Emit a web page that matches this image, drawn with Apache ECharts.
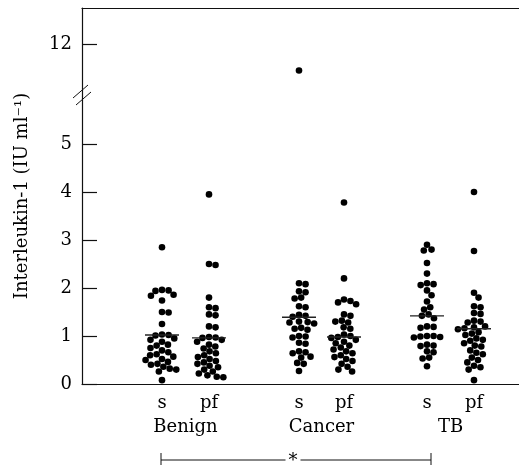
<!DOCTYPE html>
<html>
<head>
<meta charset="utf-8">
<script src="https://cdn.jsdelivr.net/npm/echarts@6/dist/echarts.min.js"></script>
<style>
  html, body { margin: 0; padding: 0; background: #fff; }
  #chart { width: 519px; height: 465px; }
</style>
</head>
<body>
<div id="chart"></div>
<script>
// groups and sample types
const groups = ['Benign', 'Cancer', 'TB'];
const samples = ['s', 'pf'];

// IL-1 values (IU/ml)
const benignS = [2.85, 1.96, 1.95, 1.94, 1.86, 1.84, 1.74, 1.5, 1.49, 1.25, 1.03, 1.02, 1.01, 0.95, 0.92, 0.88, 0.82, 0.8, 0.75, 0.7, 0.66, 0.62, 0.6, 0.57, 0.52, 0.5, 0.46, 0.42, 0.4, 0.36, 0.32, 0.3, 0.26, 0.08];
const benignPf = [3.95, 2.5, 2.48, 1.8, 1.6, 1.58, 1.45, 1.43, 1.2, 1.18, 0.98, 0.97, 0.96, 0.92, 0.88, 0.82, 0.78, 0.74, 0.68, 0.64, 0.6, 0.56, 0.52, 0.48, 0.45, 0.42, 0.38, 0.35, 0.3, 0.26, 0.22, 0.18, 0.15, 0.14];
const cancerS = [11.45, 2.1, 2.08, 1.93, 1.91, 1.8, 1.78, 1.62, 1.6, 1.44, 1.42, 1.4, 1.3, 1.29, 1.28, 1.26, 1.17, 1.15, 1.13, 1.0, 0.99, 0.97, 0.86, 0.84, 0.68, 0.66, 0.64, 0.57, 0.55, 0.44, 0.42, 0.27];
const cancerPf = [3.78, 2.2, 1.76, 1.73, 1.7, 1.66, 1.45, 1.42, 1.32, 1.3, 1.28, 1.18, 1.15, 1.03, 1.0, 0.98, 0.96, 0.92, 0.88, 0.85, 0.8, 0.76, 0.72, 0.68, 0.64, 0.6, 0.56, 0.52, 0.48, 0.42, 0.36, 0.3, 0.26];
const tbS = [2.9, 2.8, 2.78, 2.52, 2.3, 2.1, 2.08, 2.06, 1.95, 1.85, 1.72, 1.6, 1.55, 1.45, 1.42, 1.37, 1.2, 1.19, 1.17, 1.0, 1.0, 0.99, 0.98, 0.97, 0.82, 0.8, 0.79, 0.68, 0.66, 0.55, 0.53, 0.37];
const tbPf = [4.0, 2.77, 1.9, 1.8, 1.62, 1.6, 1.48, 1.46, 1.32, 1.3, 1.28, 1.2, 1.18, 1.16, 1.14, 1.08, 1.05, 1.02, 0.95, 0.92, 0.9, 0.85, 0.8, 0.78, 0.7, 0.65, 0.62, 0.55, 0.5, 0.45, 0.38, 0.35, 0.3, 0.08];

// median bars
const medians = [1.02, 0.96, 1.39, 0.98, 1.42, 1.15];

// tick labels
const lowerTicks = [0, 1, 2, 3, 4, 5];
const upperTicks = [12];

const columns = [benignS, benignPf, cancerS, cancerPf, tbS, tbPf];

// layout: x axis runs in pixels across the plot width
const plotW = 437;
const colX = [80, 127, 217, 262, 345, 392];
const groupX = [0, 1, 2].map(g => (colX[2 * g] + colX[2 * g + 1]) / 2);
const breakAt = 6;
const pxPerUnit = 48;
const dotD = 6.6;
const font = 'DejaVu Serif';

// simple beeswarm: put each dot as close to the column centre as possible
function swarm(vals, cx) {
    const placed = [];
    const out = [];
    vals.slice().sort((a, b) => b - a).forEach(v => {
        const py = v * pxPerUnit;
        let cands = [0];
        placed.forEach(p => {
            const dy = Math.abs(py - p.py);
            if (dy < dotD) {
                const h = Math.sqrt(dotD * dotD - dy * dy);
                cands.push(p.dx + h, p.dx - h);
            }
        });
        cands.sort((a, b) => Math.abs(a) - Math.abs(b));
        let dx = 0;
        for (const c of cands) {
            const ok = placed.every(p => (c - p.dx) * (c - p.dx) + (py - p.py) * (py - p.py) >= dotD * dotD - 0.01);
            if (ok) { dx = c; break; }
        }
        placed.push({ dx: dx, py: py });
        out.push([cx + dx, v]);
    });
    return out;
}

let lowerPts = [], upperPts = [];
columns.forEach((vals, i) => {
    const low = vals.filter(v => v < breakAt);
    const high = vals.filter(v => v >= breakAt);
    lowerPts = lowerPts.concat(swarm(low, colX[i]));
    high.forEach(v => upperPts.push([colX[i], v]));
});

const axisLineStyle = { color: '#111', width: 1.2 };
const labelStyle = { color: '#000', fontFamily: font, fontSize: 18 };
const dotStyle = { color: '#000', opacity: 1 };

const chart = echarts.init(document.getElementById('chart'));
chart.setOption({
    animation: false,
    grid: [
        { left: 82, right: 0, top: 8, height: 88 },
        { left: 82, right: 0, top: 96, height: 288 }
    ],
    xAxis: [
        {
            gridIndex: 0, type: 'value', min: 0, max: plotW, position: 'top',
            axisLine: { show: true, lineStyle: axisLineStyle },
            axisTick: { show: false }, axisLabel: { show: false }, splitLine: { show: false }
        },
        {
            gridIndex: 1, type: 'value', min: 0, max: plotW, position: 'bottom',
            axisLine: { show: true, lineStyle: axisLineStyle },
            axisTick: { show: false }, splitLine: { show: false },
            axisLabel: Object.assign({
                customValues: colX, margin: 10,
                formatter: v => samples[colX.indexOf(v) % 2]
            }, labelStyle)
        },
        {
            gridIndex: 1, type: 'value', min: 0, max: plotW, position: 'bottom',
            axisLine: { show: false }, axisTick: { show: false }, splitLine: { show: false },
            axisLabel: Object.assign({
                customValues: groupX, margin: 34,
                formatter: v => groups[groupX.indexOf(v)]
            }, labelStyle)
        }
    ],
    yAxis: [
        {
            gridIndex: 0, type: 'value', min: 10.92, max: 12.75,
            axisLine: { show: true, lineStyle: axisLineStyle },
            axisTick: { show: true, inside: true, length: 15, customValues: upperTicks, lineStyle: axisLineStyle },
            axisLabel: Object.assign({ customValues: upperTicks, margin: 10 }, labelStyle),
            splitLine: { show: false }
        },
        {
            gridIndex: 1, type: 'value', min: 0, max: breakAt,
            axisLine: { show: true, lineStyle: axisLineStyle },
            axisTick: { show: true, inside: true, length: 15, customValues: lowerTicks, lineStyle: axisLineStyle },
            axisLabel: Object.assign({ customValues: lowerTicks, margin: 10 }, labelStyle),
            splitLine: { show: false }
        }
    ],
    series: [
        {
            type: 'scatter', xAxisIndex: 0, yAxisIndex: 0,
            symbolSize: dotD, itemStyle: dotStyle, data: upperPts
        },
        {
            type: 'scatter', xAxisIndex: 1, yAxisIndex: 1,
            symbolSize: dotD, itemStyle: dotStyle, data: lowerPts
        },
        {
            type: 'custom', xAxisIndex: 1, yAxisIndex: 1, z: 5,
            data: medians.map((m, i) => [colX[i], m]),
            renderItem: function (params, api) {
                const p = api.coord([api.value(0), api.value(1)]);
                return {
                    type: 'line',
                    shape: { x1: p[0] - 17, y1: p[1], x2: p[0] + 17, y2: p[1] },
                    style: { stroke: '#222', lineWidth: 1.4 }
                };
            }
        }
    ],
    graphic: [
        // axis title
        {
            type: 'text', x: 22, y: 196, rotation: Math.PI / 2,
            style: {
                text: 'Interleukin-1 (IU ml⁻¹)', fill: '#000',
                font: '18px "DejaVu Serif"', align: 'center', verticalAlign: 'middle'
            }
        },
        // axis break marks
        { type: 'line', shape: { x1: 73, y1: 98, x2: 88, y2: 85 }, style: { stroke: '#111', lineWidth: 1 } },
        { type: 'line', shape: { x1: 76, y1: 105, x2: 91, y2: 92 }, style: { stroke: '#111', lineWidth: 1 } },
        // significance bracket
        { type: 'line', shape: { x1: 161, y1: 460, x2: 431, y2: 460 }, style: { stroke: '#111', lineWidth: 1 } },
        { type: 'line', shape: { x1: 161, y1: 453, x2: 161, y2: 466 }, style: { stroke: '#111', lineWidth: 1 } },
        { type: 'line', shape: { x1: 431, y1: 453, x2: 431, y2: 466 }, style: { stroke: '#111', lineWidth: 1 } },
        {
            type: 'text', x: 293, y: 461, z: 10,
            style: {
                text: '*', fill: '#000', font: '18px "DejaVu Serif"',
                align: 'center', verticalAlign: 'middle',
                backgroundColor: '#fff', padding: [0, 3]
            }
        }
    ]
});
</script>
</body>
</html>
